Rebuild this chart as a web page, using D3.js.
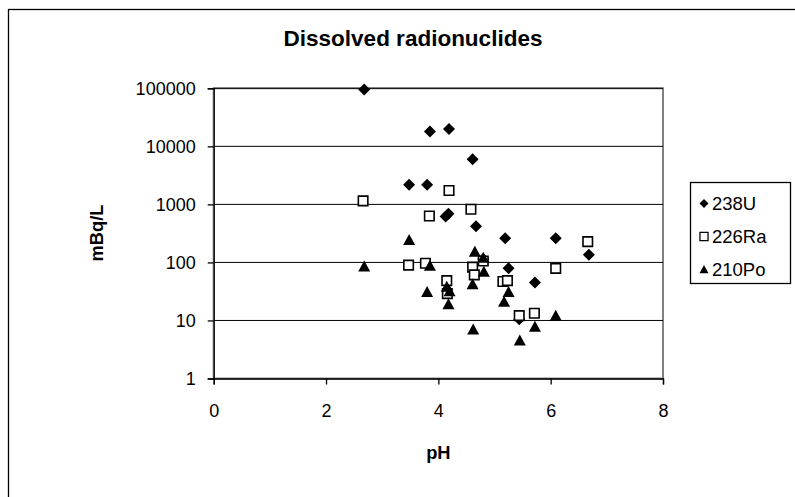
<!DOCTYPE html>
<html><head><meta charset="utf-8">
<script src="https://cdn.jsdelivr.net/npm/d3@7"></script>
<style>body{margin:0;background:#fff}svg{display:block;font-family:"Liberation Sans",Arial,sans-serif}</style>
</head><body><svg id="c" width="795" height="497"></svg>
<script>
const title = "Dissolved radionuclides";
const xTitle = "pH", yTitle = "mBq/L";
const xTicks = [0, 2, 4, 6, 8];
const yTicks = [1, 10, 100, 1000, 10000, 100000];
const seriesNames = ["238U", "226Ra", "210Po"];
const uPH  = [2.68, 3.85, 4.19, 4.61, 3.48, 3.80, 4.13, 4.18, 4.67, 4.80, 5.19, 6.09, 6.68, 5.25, 5.72, 5.44];
const uVal = [95000, 18000, 19800, 6000, 2170, 2170, 620, 690, 420, 115, 260, 260, 135, 79, 45, 10.5];
const raPH  = [2.66, 3.84, 4.19, 4.58, 3.47, 3.77, 4.15, 4.16, 4.61, 4.64, 4.80, 5.15, 5.23, 5.44, 5.71, 6.09, 6.66];
const raVal = [1150, 630, 1730, 826, 90, 97, 48.5, 29, 83, 61, 106, 47, 48.5, 12.1, 13.3, 79, 228];
const poPH  = [2.68, 3.48, 3.85, 3.80, 4.15, 4.20, 4.18, 4.65, 4.61, 4.62, 4.80, 4.81, 5.25, 5.17, 5.45, 5.72, 6.09];
const poVal = [85, 244, 88, 31, 38, 32, 19, 153, 42, 7, 120, 69, 31, 21, 4.5, 7.8, 12];

const svg = d3.select("#c");
const L = 213.7, R = 663, T = 88.3, B = 378.5;
const x = d3.scaleLinear().domain([0, 8]).range([L, R]);
const y = d3.scaleLog().domain([1, 100000]).range([B, T]);

// outer frame
svg.append("rect").attr("x", 8.5).attr("y", 9.5).attr("width", 900).attr("height", 600)
  .attr("fill", "none").attr("stroke", "#000").attr("stroke-width", 1.3);

// plot area border
svg.append("rect").attr("x", L).attr("y", T).attr("width", R - L).attr("height", B - T)
  .attr("fill", "none").attr("stroke", "#808080").attr("stroke-width", 2);

// gridlines
svg.append("g").selectAll("line").data(yTicks.filter(d => d > 1)).join("line")
  .attr("x1", L).attr("x2", R).attr("y1", d => y(d)).attr("y2", d => y(d))
  .attr("stroke", "#000").attr("stroke-width", 1);

// axes
const fmt = d => String(d);
const ya = svg.append("g").attr("transform", `translate(${L},0)`)
  .call(d3.axisLeft(y).tickValues(yTicks).tickFormat(fmt).tickSize(6).tickPadding(12));
const xa = svg.append("g").attr("transform", `translate(0,${B})`)
  .call(d3.axisBottom(x).tickValues(xTicks).tickFormat(fmt).tickSize(6).tickPadding(20));
[ya, xa].forEach(g => {
  g.select(".domain").attr("stroke", "#000").attr("stroke-width", 1.3);
  g.selectAll(".tick line").attr("stroke", "#000").attr("stroke-width", 1.3);
  g.selectAll("text").attr("font-size", 18).attr("fill", "#000")
    .attr("font-family", "Liberation Sans, Arial, sans-serif");
});

// titles
svg.append("text").attr("x", 413).attr("y", 46).attr("text-anchor", "middle")
  .attr("font-size", 22.5).attr("font-weight", "bold").text(title);
svg.append("text").attr("x", x(4)).attr("y", 458.5).attr("text-anchor", "middle")
  .attr("font-size", 18.3).attr("font-weight", "bold").text(xTitle);
svg.append("text").attr("transform", "translate(103,233) rotate(-90)").attr("text-anchor", "middle")
  .attr("font-size", 18.3).attr("font-weight", "bold").text(yTitle);

// markers
const diamond = "M0,-6L6,0L0,6L-6,0Z";
const square = "M-4.75,-4.75H4.75V4.75H-4.75Z";
const tri = "M0,-6L6,5L-6,5Z";
const shapes = [
  {path: diamond, fill: "#000", stroke: "none", sw: 0},
  {path: square, fill: "#fff", stroke: "#000", sw: 1.6},
  {path: tri, fill: "#000", stroke: "none", sw: 0}
];
const data = [
  d3.zip(uPH, uVal), d3.zip(raPH, raVal), d3.zip(poPH, poVal)
];
data.forEach((pts, i) => {
  const s = shapes[i];
  svg.append("g").selectAll("path").data(pts).join("path")
    .attr("d", s.path).attr("transform", d => `translate(${x(d[0])},${y(d[1])})`)
    .attr("fill", s.fill).attr("stroke", s.stroke).attr("stroke-width", s.sw);
});

// legend
svg.append("rect").attr("x", 690.5).attr("y", 182.5).attr("width", 100).attr("height", 101)
  .attr("fill", "#fff").attr("stroke", "#000").attr("stroke-width", 1.3);
const ly = [203.5, 236.5, 269.5];
seriesNames.forEach((n, i) => {
  const s = shapes[i];
  const sc = i === 1 ? 0.85 : 0.75;
  svg.append("path").attr("d", s.path)
    .attr("transform", `translate(704,${ly[i]}) scale(${sc})`)
    .attr("fill", s.fill).attr("stroke", s.stroke).attr("stroke-width", s.sw / sc * 0.8);
  svg.append("text").attr("x", 712).attr("y", ly[i]).attr("dy", "0.36em")
    .attr("font-size", 18.5).text(n);
});
</script></body></html>
